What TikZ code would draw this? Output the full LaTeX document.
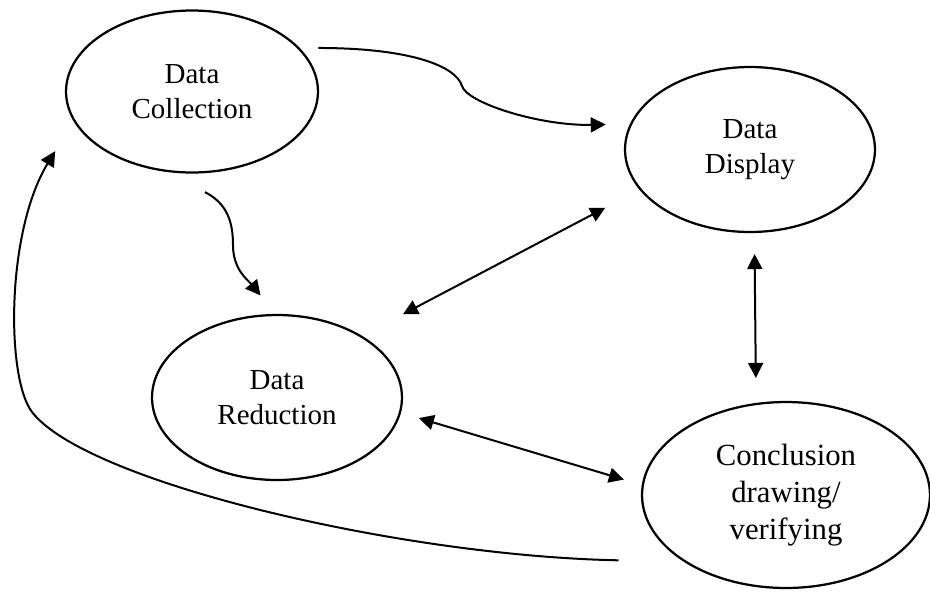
\documentclass[tikz,border=0pt]{standalone}
\usepackage{fontspec}
\setmainfont{Liberation Serif}
\usetikzlibrary{arrows.meta,shapes.geometric}
\tikzset{>={Triangle[length=3mm,width=3mm]}}
\tikzset{stage/.style={ellipse,draw,line width=0.45mm,inner sep=0pt,align=center,font=\fontsize{16.5}{19.8}\selectfont}}

\begin{document}
\begin{tikzpicture}[x=0.02cm,y=-0.02cm,line width=0.4mm]
\useasboundingbox (0,0) rectangle (930,600);

\node [stage,minimum width=5.04cm,minimum height=3.24cm] (coll) at (192,91.5) {Data\\Collection};
\node [stage,minimum width=5cm,minimum height=3.3cm] (disp) at (750,149.5) {Data\\Display};
\node [stage,minimum width=5cm,minimum height=3.3cm] (red) at (277,397.5) {Data\\Reduction};
\node [stage,minimum width=5.76cm,minimum height=3.72cm,font=\fontsize{17.5}{21}\selectfont] (concl) at (786,495) {Conclusion\\drawing/\\verifying};

\begin{scope}[line width=0.4mm]
\draw[->,shorten <=3.74mm,shorten >=4.84mm] (coll.22.25) .. controls (410,48) and (456,66) .. (462,86) .. controls (467,103) and (540,126) .. (disp.168.9);
\draw[->,shorten <=8.8mm,shorten >=4.76mm] (coll.252.8) .. controls (226,203) and (233,220) .. (233,245) .. controls (233,270) and (248,280) .. (red.91.9);
\draw[<->,shorten <=9.25mm,shorten >=7.72mm] (red.36) -- (disp.200.5);
\draw[<->,shorten <=4.2mm,shorten >=5mm] (disp.273.5) -- (concl.108.9);
\draw[<->,shorten <=3.72mm,shorten >=3.72mm] (red.353.5) -- (concl.176.2);
\draw[->,shorten <=13mm,shorten >=7.04mm] (concl.213.85) .. controls (400,556) and (86,482) .. (32,412) .. controls (6,378) and (6,232) .. (coll.194.5);
\end{scope}

\end{tikzpicture}
\end{document}
